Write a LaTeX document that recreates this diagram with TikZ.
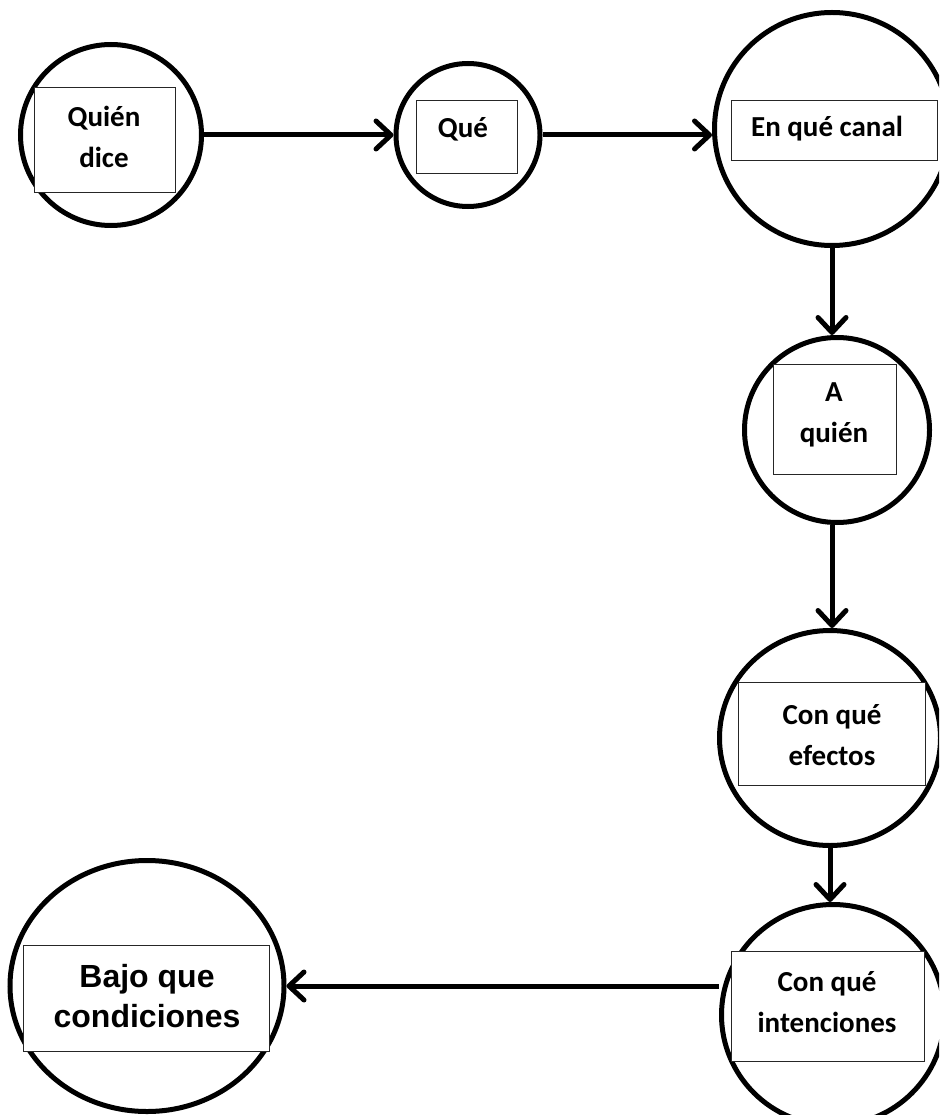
\documentclass[tikz,border=0pt]{standalone}
\usepackage{fontspec}
\setmainfont{Carlito}
\newfontfamily\arialfont{Liberation Sans}
\usetikzlibrary{arrows.meta,shapes.geometric}
\tikzset{
  x=1pt, y=-1pt,
  bubble/.style={ellipse, draw=black, line width=5pt, inner sep=0pt, fill=white},
  boxst/.style={rectangle, draw=black!85, line width=0.9pt, fill=white, inner sep=0pt},
  txt/.style={font=\bfseries\fontsize{29}{41}\selectfont, align=center, inner sep=0pt},
  txtarial/.style={font=\arialfont\bfseries\fontsize{32}{40}\selectfont, align=center, inner sep=0pt},
  arr/.style={line width=5pt, -{Straight Barb[length=15pt, width=28pt, round]}}
}
\begin{document}
\begin{tikzpicture}
\useasboundingbox (0,0) rectangle (939,1115);
\clip (0,0) rectangle (939,1115);
% circles
\node[bubble, minimum width=181pt, minimum height=181pt] (c1) at (111,135) {};
\node[bubble, minimum width=144pt, minimum height=143pt] (c2) at (468,135) {};
\node[bubble, minimum width=235pt, minimum height=233pt] (c3) at (832,129) {};
\node[bubble, minimum width=185pt, minimum height=185pt] (c4) at (837,430) {};
\node[bubble, minimum width=221pt, minimum height=215pt] (c5) at (830,738) {};
\node[bubble, minimum width=223pt, minimum height=221pt] (c6) at (833,1015) {};
\node[bubble, minimum width=274pt, minimum height=251pt] (c7) at (147,986) {};
% boxes
\node[boxst, minimum width=141pt, minimum height=105pt] (b1) at (104.5,139.5) {};
\node[boxst, minimum width=101pt, minimum height=73pt] (b2) at (466.5,136.5) {};
\node[boxst, minimum width=206pt, minimum height=60pt] (b3) at (834,130) {};
\node[boxst, minimum width=123pt, minimum height=110pt] (b4) at (834.5,419) {};
\node[boxst, minimum width=187pt, minimum height=103pt] (b5) at (831.5,733.5) {};
\node[boxst, minimum width=193pt, minimum height=110pt] (b6) at (827.5,1006) {};
\node[boxst, minimum width=246pt, minimum height=106pt] (b7) at (146,998) {};
% texts
\node[txt] (t1) at (104,137) {Quién\\dice};
\node[txt] (t2) at (463,129) {Qué};
\node[txt] (t3) at (827,129) {En qué canal};
\node[txt] (t4) at (834,415) {A\\quién};
\node[txt] (t5) at (832,735) {Con qué\\efectos};
\node[txt] (t6) at (827,1002) {Con qué\\intenciones};
\node[txtarial] (t7) at (147,996) {Bajo que\\condiciones};
% connectors
\draw[arr] (c1) -- (c2);
\draw[arr] (c2.east) -- (c3.west |- c2.east);
\draw[arr] (c3.south) -- (c3.south |- c4.north);
\draw[arr] (c4.south -| c3.south) -- (c3.south |- c5.north);
\draw[arr] (c5.south) -- (c5.south |- c6.north);
\draw[arr] (c6.west |- c7.east) -- (c7.east);
\end{tikzpicture}
\end{document}
